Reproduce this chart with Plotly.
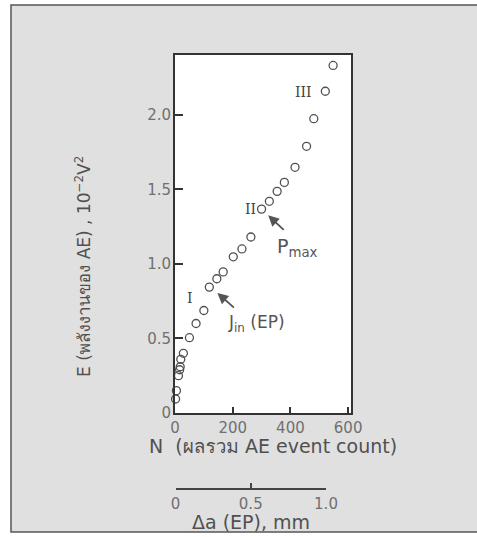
import plotly.graph_objects as go

# Data (N = cumulative AE event count, E = AE energy, 1e-2 V^2)
N_vals = [2, 5, 12, 16, 18, 20, 29, 50, 73, 100, 119, 145, 167, 202, 232, 263,
          300, 327, 354, 379, 416, 456, 481, 521, 548]
E_vals = [0.094, 0.15, 0.25, 0.29, 0.31, 0.36, 0.40, 0.505, 0.60, 0.687, 0.844, 0.90, 0.946,
          1.047, 1.10, 1.18, 1.367, 1.419, 1.486, 1.546, 1.647, 1.788, 1.973, 2.157, 2.33]

x_ticks = [0, 200, 400, 600]
y_ticks = [0, 0.5, 1.0, 1.5, 2.0]
y_ticktext = ["0", "0.5", "1.0", "1.5", "2.0"]
da_ticks = [0, 0.5, 1.0]
da_ticktext = ["0", "0.5", "1.0"]

W, H = 477, 537
ML, MR, MT, MB = 175, 126, 55, 49
PW = W - ML - MR
PH = H - MT - MB


def px(xp):
    return (xp - ML) / PW


def py(yp):
    return (H - MB - yp) / PH


y_bottom = py(413)

FONT = "DejaVu Sans, Noto Sans, Loma, Garuda, sans-serif"
SERIF = "DejaVu Serif, Liberation Serif, serif"

fig = go.Figure()
fig.add_trace(go.Scatter(
    x=N_vals, y=E_vals, mode="markers",
    marker=dict(symbol="circle-open", size=8, color="#505050", line=dict(width=1.3, color="#505050")),
    cliponaxis=False, showlegend=False, hoverinfo="skip",
))
# carrier trace so the secondary (crack extension) axis is drawn
fig.add_trace(go.Scatter(x=[], y=[], xaxis="x2", yaxis="y2", mode="markers",
                         showlegend=False, hoverinfo="skip"))

axis_line = dict(showline=True, linecolor="#333333", linewidth=2, showgrid=False, zeroline=False)
TICKFONT = dict(family=FONT, size=15, color="#707070")

fig.update_layout(
    width=W, height=H,
    margin=dict(l=ML, r=MR, t=MT, b=MB),
    paper_bgcolor="white", plot_bgcolor="white",
    font=dict(family=FONT, color="#555555", size=16),
    showlegend=False,
    xaxis=dict(range=[0, 610], domain=[0, 1], anchor="y", mirror=True,
               ticks="inside", ticklen=6, tickwidth=1.5, tickcolor="#333333",
               tickvals=x_ticks, ticktext=[str(v) for v in x_ticks],
               tickfont=TICKFONT, ticklabelstandoff=0, **axis_line),
    yaxis=dict(range=[0, 2.4], domain=[y_bottom, 1], anchor="x", mirror=True,
               ticks="inside", ticklen=8, tickwidth=1.5, tickcolor="#333333",
               tickvals=y_ticks, ticktext=y_ticktext,
               tickfont=TICKFONT, ticklabelstandoff=-1, **axis_line),
    xaxis2=dict(range=[0, 1.0], domain=[px(175.5), px(326)], anchor="y2",
                ticks="inside", ticklen=5, tickwidth=1.5, tickcolor="#444444",
                tickvals=da_ticks, ticktext=da_ticktext,
                tickfont=TICKFONT, ticklabelstandoff=1,
                showline=True, linecolor="#444444", linewidth=1.5, showgrid=False, zeroline=False),
    yaxis2=dict(domain=[0, 0.02], anchor="x2", visible=False, range=[0, 1]),
)

# background panel (scanned page) with border, and white plot area
fig.add_shape(type="rect", xref="paper", yref="paper",
              x0=px(11), x1=px(490), y0=py(532), y1=py(5),
              fillcolor="#e0e0e0", line=dict(color="#555555", width=1.5), layer="below")
fig.add_shape(type="rect", xref="paper", yref="paper",
              x0=0, x1=1, y0=y_bottom, y1=1,
              fillcolor="white", line=dict(width=0), layer="below")

ann = []
C = dict(xanchor="center", yanchor="middle", showarrow=False)
# axis titles
ann.append(dict(xref="paper", yref="paper", x=px(83), y=py(267), textangle=-90,
                text="E (พลังงานของ AE) , 10<sup>−2</sup>V<sup>2</sup>",
                font=dict(size=17, color="#505050"), **C))
ann.append(dict(xref="paper", yref="paper", x=px(273), y=py(446),
                text="N  (ผลรวม AE event count)",
                font=dict(size=19, color="#505050"), **C))
ann.append(dict(xref="paper", yref="paper", x=px(250.5), y=py(522),
                text="Δa (EP), mm",
                font=dict(size=19, color="#505050"), **C))
# roman numerals
ann.append(dict(x=52, y=0.77, text="I", font=dict(family=SERIF, size=14, color="#404040"), **C))
ann.append(dict(x=261, y=1.366, text="II", font=dict(family=SERIF, size=14, color="#404040"), **C))
ann.append(dict(x=446, y=2.154, text="III", font=dict(family=SERIF, size=14, color="#404040"), **C))
# arrows
ann.append(dict(x=323, y=1.325, ax=17, ay=16, axref="pixel", ayref="pixel", text="",
                showarrow=True, arrowhead=2, arrowsize=1.2, arrowwidth=1.8, arrowcolor="#555555"))
ann.append(dict(x=147, y=0.805, ax=18, ay=16, axref="pixel", ayref="pixel", text="",
                showarrow=True, arrowhead=2, arrowsize=1.2, arrowwidth=1.8, arrowcolor="#555555"))
ann.append(dict(x=423, y=1.111, text="P<sub>max</sub>", font=dict(size=19, color="#555555"), **C))
ann.append(dict(x=281, y=0.60, text="J<sub>in</sub> (EP)", font=dict(size=17, color="#555555"), **C))

fig.update_layout(annotations=ann)
fig.write_html("out.html")
